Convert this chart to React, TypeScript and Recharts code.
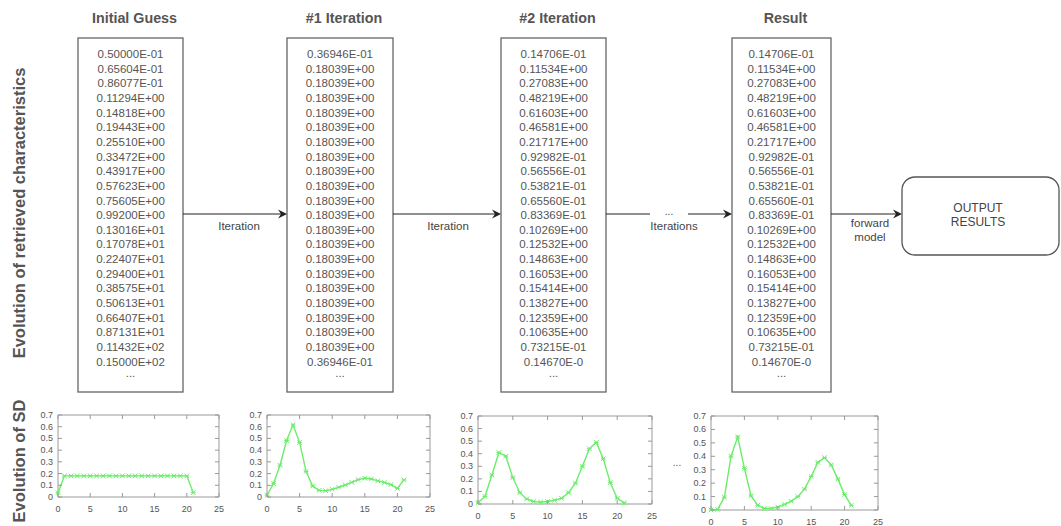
import React from "react";
import { LineChart, Line, XAxis, YAxis, ReferenceArea } from "recharts";

// Retrieved characteristics per step (one value per size bin)
const initialGuess = [
  "0.50000E-01", "0.65604E-01", "0.86077E-01", "0.11294E+00", "0.14818E+00",
  "0.19443E+00", "0.25510E+00", "0.33472E+00", "0.43917E+00", "0.57623E+00",
  "0.75605E+00", "0.99200E+00", "0.13016E+01", "0.17078E+01", "0.22407E+01",
  "0.29400E+01", "0.38575E+01", "0.50613E+01", "0.66407E+01", "0.87131E+01",
  "0.11432E+02", "0.15000E+02", "...",
];

const iteration1 = [
  "0.36946E-01", "0.18039E+00", "0.18039E+00", "0.18039E+00", "0.18039E+00",
  "0.18039E+00", "0.18039E+00", "0.18039E+00", "0.18039E+00", "0.18039E+00",
  "0.18039E+00", "0.18039E+00", "0.18039E+00", "0.18039E+00", "0.18039E+00",
  "0.18039E+00", "0.18039E+00", "0.18039E+00", "0.18039E+00", "0.18039E+00",
  "0.18039E+00", "0.36946E-01", "...",
];

const iteration2 = [
  "0.14706E-01", "0.11534E+00", "0.27083E+00", "0.48219E+00", "0.61603E+00",
  "0.46581E+00", "0.21717E+00", "0.92982E-01", "0.56556E-01", "0.53821E-01",
  "0.65560E-01", "0.83369E-01", "0.10269E+00", "0.12532E+00", "0.14863E+00",
  "0.16053E+00", "0.15414E+00", "0.13827E+00", "0.12359E+00", "0.10635E+00",
  "0.73215E-01", "0.14670E-0", "...",
];

const resultColumn = [...iteration2];

// SD profiles shown under the columns (x = bin index 0..21)
const sdStep1 = iteration1.filter((s) => s !== "...").map((s) => parseFloat(s));
const sdStep2 = iteration2.filter((s) => s !== "...").map((s) => parseFloat(s));
const sdStep3 = [
  0.01, 0.06, 0.23, 0.41, 0.38, 0.21, 0.09, 0.04, 0.02, 0.015, 0.02,
  0.03, 0.045, 0.09, 0.165, 0.3, 0.44, 0.49, 0.36, 0.17, 0.045, 0.01,
];
const sdFinal = [
  0, 0.005, 0.095, 0.4, 0.545, 0.31, 0.105, 0.035, 0.012, 0.012, 0.022,
  0.042, 0.065, 0.1, 0.155, 0.25, 0.355, 0.39, 0.335, 0.23, 0.115, 0.035,
];

const xTicks = [0, 5, 10, 15, 20, 25];
const yTicks = [0, 0.1, 0.2, 0.3, 0.4, 0.5, 0.6, 0.7];

const FONT = '"Liberation Sans", Arial, Helvetica, sans-serif';
const GREEN = "#6cec6c";
const TICK_GRAY = "#555";

function StarDot(props: any) {
  const { cx, cy, index } = props;
  if (cx == null || cy == null) return <g key={index} />;
  const r = 2.3;
  return (
    <g key={index} stroke={GREEN} strokeWidth={1}>
      <line x1={cx - r} y1={cy - r} x2={cx + r} y2={cy + r} />
      <line x1={cx - r} y1={cy + r} x2={cx + r} y2={cy - r} />
      <line x1={cx - r} y1={cy} x2={cx + r} y2={cy} />
    </g>
  );
}

interface PanelProps {
  values: number[];
  plotLeft: number;
  plotTop: number;
  plotW: number;
  plotH: number;
}

function SdPanel({ values, plotLeft, plotTop, plotW, plotH }: PanelProps) {
  const data = values.map((sd, i) => ({ x: i, sd }));
  const yAxisW = 30;
  const mTop = 6;
  const mRight = 10;
  const xAxisH = 20;

  // gnuplot-style ticks: inward marks mirrored on the opposite border
  const xTick = (p: any) => (
    <g key={p.index}>
      <line x1={p.x} x2={p.x} y1={p.y} y2={p.y - 4} stroke="#999" />
      <line x1={p.x} x2={p.x} y1={p.y - plotH} y2={p.y - plotH + 4} stroke="#999" />
      <text x={p.x} y={p.y + 15} textAnchor="middle" fontSize={9} fill={TICK_GRAY} fontFamily={FONT}>
        {p.payload.value}
      </text>
    </g>
  );
  const yTick = (p: any) => (
    <g key={p.index}>
      <line x1={p.x} x2={p.x + 4} y1={p.y} y2={p.y} stroke="#999" />
      <line x1={p.x + plotW} x2={p.x + plotW - 4} y1={p.y} y2={p.y} stroke="#999" />
      <text x={p.x - 5} y={p.y + 3} textAnchor="end" fontSize={9} fill={TICK_GRAY} fontFamily={FONT}>
        {p.payload.value === 0 ? "0" : p.payload.value.toFixed(1)}
      </text>
    </g>
  );

  return (
    <div style={{ position: "absolute", left: plotLeft - yAxisW, top: plotTop - mTop }}>
      <LineChart
        width={yAxisW + plotW + mRight}
        height={mTop + plotH + xAxisH}
        data={data}
        margin={{ top: mTop, right: mRight, bottom: 0, left: 0 }}
      >
        <XAxis
          type="number"
          dataKey="x"
          domain={[0, 25]}
          ticks={xTicks}
          interval={0}
          height={xAxisH}
          axisLine={false}
          tickLine={false}
          tickSize={0}
          tickMargin={0}
          tick={xTick}
        />
        <YAxis
          type="number"
          domain={[0, 0.7]}
          ticks={yTicks}
          interval={0}
          width={yAxisW}
          axisLine={false}
          tickLine={false}
          tickSize={0}
          tickMargin={0}
          tick={yTick}
        />
        <ReferenceArea x1={0} x2={25} y1={0} y2={0.7} fill="none" stroke="#9a9a9a" strokeOpacity={1} />
        <Line
          type="linear"
          dataKey="sd"
          stroke={GREEN}
          strokeWidth={1.4}
          dot={StarDot}
          activeDot={false}
          isAnimationActive={false}
        />
      </LineChart>
    </div>
  );
}

interface ColumnProps {
  title: string;
  lines: string[];
  left: number;
  right: number;
}

function ValueColumn({ title, lines, left, right }: ColumnProps) {
  const cx = (left + right) / 2;
  return (
    <g>
      <text x={cx + 4} y={18} textAnchor="middle" dominantBaseline="central" fontSize={14.3} fontWeight="bold" fill="#555">
        {title}
      </text>
      <rect x={left} y={38} width={right - left} height={354} fill="#fff" stroke="#666" strokeWidth={1.3} />
      {lines.map((s, i) => (
        <text
          key={i}
          x={cx}
          y={s === "..." ? 54 + i * 14.65 - 3 : 54 + i * 14.65}
          textAnchor="middle"
          dominantBaseline="central"
          fontSize={11.5}
          fill="#555"
        >
          {s}
        </text>
      ))}
    </g>
  );
}

function Arrow({ x1, x2, y }: { x1: number; x2: number; y: number }) {
  return (
    <g>
      <line x1={x1} x2={x2 - 6} y1={y} y2={y} stroke="#222" strokeWidth={1.2} />
      <polygon points={`${x2},${y} ${x2 - 9},${y - 4.5} ${x2 - 6},${y} ${x2 - 9},${y + 4.5}`} fill="#222" />
    </g>
  );
}

export default function App() {
  const arrowY = 214;
  return (
    <div
      style={{
        position: "absolute",
        left: 0,
        top: 0,
        width: 1061,
        height: 526,
        background: "#fff",
        fontFamily: FONT,
      }}
    >
      <svg width={1061} height={526} style={{ position: "absolute", left: 0, top: 0 }} fontFamily={FONT}>
        <text
          x={19}
          y={213}
          transform="rotate(-90 19 213)"
          textAnchor="middle"
          dominantBaseline="central"
          fontSize={16.5}
          fontWeight="bold"
          fill="#555"
        >
          Evolution of retrieved characteristics
        </text>
        <text
          x={19}
          y={461}
          transform="rotate(-90 19 461)"
          textAnchor="middle"
          dominantBaseline="central"
          fontSize={16.5}
          fontWeight="bold"
          fill="#555"
        >
          Evolution of SD
        </text>

        <ValueColumn title="Initial Guess" lines={initialGuess} left={78} right={183} />
        <ValueColumn title="#1 Iteration" lines={iteration1} left={287} right={393} />
        <ValueColumn title="#2 Iteration" lines={iteration2} left={501} right={606} />
        <ValueColumn title="Result" lines={resultColumn} left={732} right={831} />

        <Arrow x1={183} x2={287} y={arrowY} />
        <text x={239} y={226} textAnchor="middle" dominantBaseline="central" fontSize={11.5} fill="#444">
          Iteration
        </text>

        <Arrow x1={393} x2={501} y={arrowY} />
        <text x={448} y={226} textAnchor="middle" dominantBaseline="central" fontSize={11.5} fill="#444">
          Iteration
        </text>

        <line x1={606} x2={650} y1={arrowY} y2={arrowY} stroke="#222" strokeWidth={1.2} />
        <Arrow x1={688} x2={732} y={arrowY} />
        <text x={669} y={211} textAnchor="middle" dominantBaseline="central" fontSize={10} fill="#444">
          ...
        </text>
        <text x={674} y={226} textAnchor="middle" dominantBaseline="central" fontSize={11.5} fill="#444">
          Iterations
        </text>

        <Arrow x1={831} x2={902} y={arrowY} />
        <text x={870} y={223} textAnchor="middle" dominantBaseline="central" fontSize={11.5} fill="#444">
          forward
        </text>
        <text x={870} y={237} textAnchor="middle" dominantBaseline="central" fontSize={11.5} fill="#444">
          model
        </text>

        <rect x={902} y={177} width={157} height={78} rx={13} fill="#fff" stroke="#555" strokeWidth={1.3} />
        <text x={978} y={208} textAnchor="middle" dominantBaseline="central" fontSize={12} fill="#444">
          OUTPUT
        </text>
        <text x={978} y={222} textAnchor="middle" dominantBaseline="central" fontSize={12} fill="#444">
          RESULTS
        </text>

        <text x={677} y={462} textAnchor="middle" dominantBaseline="central" fontSize={10} fill="#555">
          ...
        </text>
      </svg>

      <SdPanel values={sdStep1} plotLeft={58} plotTop={415} plotW={161} plotH={82} />
      <SdPanel values={sdStep2} plotLeft={267} plotTop={415} plotW={163} plotH={82} />
      <SdPanel values={sdStep3} plotLeft={478} plotTop={416} plotW={174} plotH={88} />
      <SdPanel values={sdFinal} plotLeft={711} plotTop={416} plotW={167} plotH={94} />
    </div>
  );
}
